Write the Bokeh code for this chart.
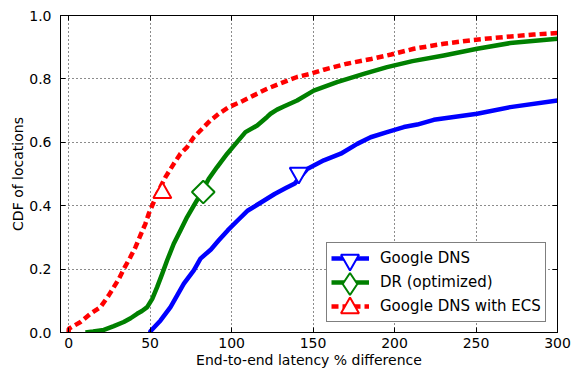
import numpy as np
from bokeh.plotting import figure
from bokeh.models import (ColumnDataSource, Legend, LegendItem, LinearAxis,
                          FixedTicker, Range1d)
from bokeh.embed import file_html
from bokeh.resources import INLINE

# ---- data ----
google_x = [50, 50.2, 56.4, 62.5, 66.6, 70.7, 76.8, 80.9, 87.3, 92, 97.6, 104, 110, 118,
            126.4, 133, 138.8, 142, 146.4, 156.6, 167, 177.1, 185.3, 195.4, 205.7, 213.9,
            224.1, 250.7, 271, 300]
google_y = [0.0, 0.004, 0.038, 0.08, 0.117, 0.154, 0.196, 0.233, 0.262, 0.29, 0.322, 0.355,
            0.385, 0.41, 0.437, 0.455, 0.47, 0.49, 0.516, 0.543, 0.564, 0.595, 0.616, 0.632,
            0.648, 0.656, 0.671, 0.69, 0.711, 0.732]

dr_x = [10.3, 15, 21.6, 27.7, 33.8, 38, 42, 45, 48.2, 51.3, 54.3, 57.4, 60.4, 64.5, 68.6,
        72.7, 76.8, 79.9, 86, 91.1, 97.3, 102.4, 108.5, 115.7, 121.8, 123.9, 127.9, 132,
        140.2, 150.4, 164.7, 181.1, 195.4, 211, 230.2, 250.7, 271, 291.5, 300]
dr_y = [0.0, 0.003, 0.008, 0.02, 0.033, 0.045, 0.059, 0.068, 0.08, 0.106, 0.143, 0.185,
        0.227, 0.28, 0.322, 0.364, 0.40, 0.427, 0.485, 0.522, 0.564, 0.595, 0.632, 0.653,
        0.68, 0.69, 0.703, 0.713, 0.732, 0.763, 0.79, 0.816, 0.837, 0.856, 0.874, 0.895,
        0.913, 0.923, 0.927]

ecs_x = [0, 0.1, 7.3, 13.4, 19.5, 24.6, 27.7, 30.8, 33.8, 37.9, 41, 44, 47.1, 49.1, 52.2,
         55.5, 59.4, 64.5, 68.6, 72.7, 76.8, 82, 87, 92.1, 98.3, 105.4, 113.6, 121.8, 132,
         140.2, 148.4, 156.6, 170.9, 185.6, 197.9, 211.8, 230.2, 248.6, 267, 285.4, 300]
ecs_y = [0.0, 0.012, 0.033, 0.059, 0.080, 0.117, 0.143, 0.169, 0.200, 0.238, 0.269, 0.306,
         0.343, 0.374, 0.411, 0.45, 0.49, 0.532, 0.564, 0.585, 0.616, 0.643, 0.669, 0.69,
         0.711, 0.727, 0.748, 0.769, 0.79, 0.806, 0.816, 0.829, 0.848, 0.863, 0.877, 0.895,
         0.911, 0.923, 0.932, 0.94, 0.945]

# single marker per series
google_mark = (141.2, 0.503)
dr_mark = (82.6, 0.443)
ecs_mark = (57.5, 0.441)

labels = ["Google DNS", "DR (optimized)", "Google DNS with ECS"]
x_ticks = [0, 50, 100, 150, 200, 250, 300]
y_ticks = [0.0, 0.2, 0.4, 0.6, 0.8, 1.0]

FONT = "DejaVu Sans"

p = figure(width=575, height=371, output_backend="svg", toolbar_location=None,
           x_range=Range1d(-5, 300), y_range=Range1d(0, 1.0),
           min_border_left=60, min_border_right=18, min_border_top=15,
           min_border_bottom=39)
p.background_fill_color = "white"
p.border_fill_color = "white"
p.outline_line_color = "black"
p.outline_line_width = 1

# grids
for g in (p.xgrid, p.ygrid):
    g.grid_line_color = "black"
    g.grid_line_dash = "1 3"
    g.grid_line_width = 1
    g.grid_line_alpha = 0.9
p.xgrid.ticker = FixedTicker(ticks=x_ticks)
p.ygrid.ticker = FixedTicker(ticks=y_ticks)

# axes
p.xaxis.ticker = FixedTicker(ticks=x_ticks)
p.yaxis.ticker = FixedTicker(ticks=y_ticks)
p.xaxis.major_label_overrides = {t: str(t) for t in x_ticks}
p.yaxis.major_label_overrides = {t: f"{t:.1f}" for t in y_ticks}
p.xaxis.axis_label = "End-to-end latency % difference"
p.yaxis.axis_label = "CDF of locations"
for ax in (p.xaxis[0], p.yaxis[0]):
    ax.axis_line_color = "black"
    ax.major_tick_line_color = "black"
    ax.major_tick_in = 5
    ax.major_tick_out = 0
    ax.minor_tick_line_color = None
    ax.major_label_text_font = FONT
    ax.major_label_text_font_size = "14px"
    ax.major_label_text_color = "black"
    ax.axis_label_text_font = FONT
    ax.axis_label_text_font_size = "14px"
    ax.axis_label_text_font_style = "normal"
    ax.axis_label_text_color = "black"
p.xaxis.major_label_standoff = 5
p.xaxis.axis_label_standoff = 1
p.yaxis.major_label_standoff = 9
p.yaxis.axis_label_standoff = 0

# ticks on top and right, no labels
top = LinearAxis(ticker=FixedTicker(ticks=x_ticks), major_label_text_font_size="1px",
                 major_label_text_color=None,
                 major_tick_in=5, major_tick_out=0, minor_tick_line_color=None,
                 major_label_standoff=0, axis_line_color="black")
right = LinearAxis(ticker=FixedTicker(ticks=y_ticks), major_label_text_font_size="1px",
                   major_label_text_color=None,
                   major_tick_in=5, major_tick_out=0, minor_tick_line_color=None,
                   major_label_standoff=0, axis_line_color="black")
p.add_layout(top, "above")
p.add_layout(right, "right")

BLUE, GREEN, RED = "#0000ff", "#008000", "#ff0000"

src_g = ColumnDataSource(dict(x=google_x, y=google_y))
src_d = ColumnDataSource(dict(x=dr_x, y=dr_y))
src_e = ColumnDataSource(dict(x=ecs_x, y=ecs_y))

lg = p.line("x", "y", source=src_g, line_color=BLUE, line_width=4.5, line_join="round")
ld = p.line("x", "y", source=src_d, line_color=GREEN, line_width=4.5, line_join="round")
le = p.line("x", "y", source=src_e, line_color=RED, line_width=4.5, line_dash="7 4")

mg = p.scatter([google_mark[0]], [google_mark[1]], marker="inverted_triangle", size=18,
               line_color=BLUE, line_width=2, fill_color="white")
md = p.scatter([dr_mark[0]], [dr_mark[1]], marker="square", angle=np.pi / 4, size=16,
               line_color=GREEN, line_width=2, fill_color="white")
me = p.scatter([ecs_mark[0]], [ecs_mark[1]], marker="triangle", size=18,
               line_color=RED, line_width=2, fill_color="white")
# legend-only diamond (not drawn in the plot area: NaN position)
md_leg = p.scatter([np.nan], [np.nan], marker="diamond", size=22,
                   line_color=GREEN, line_width=2, fill_color="white")

# main legend: lines + labels
legend = Legend(items=[
    LegendItem(label=labels[0], renderers=[lg]),
    LegendItem(label=labels[1], renderers=[ld]),
    LegendItem(label=labels[2], renderers=[le]),
], location=(266, 10))
legend.padding = 4
legend.spacing = 2
legend.glyph_width = 38
legend.glyph_height = 22
legend.label_height = 22
legend.label_standoff = 11
legend.label_text_font = FONT
legend.label_text_font_size = "15px"
legend.label_text_color = "black"
legend.border_line_color = "black"
legend.border_line_width = 1
legend.background_fill_color = "white"
legend.background_fill_alpha = 1.0
p.add_layout(legend, "center")

# marker overlays for the legend rows (large markers, as in the reference)
def marker_legend(renderer, box, loc):
    lgd = Legend(items=[LegendItem(label=" ", renderers=[renderer])], location=loc)
    lgd.padding = 0
    lgd.spacing = 0
    lgd.margin = 0
    lgd.glyph_width = box
    lgd.glyph_height = box
    lgd.label_height = 10
    lgd.label_standoff = 0
    lgd.label_text_font_size = "1px"
    lgd.label_text_color = None
    lgd.border_line_color = None
    lgd.background_fill_alpha = 0
    lgd.inactive_fill_alpha = 0
    p.add_layout(lgd, "center")

marker_legend(mg, 45, (266.5, 50.5))
marker_legend(md_leg, 55, (261.5, 21.5))
marker_legend(me, 45, (266.5, 2.5))

open("out.html", "w").write(file_html(p, INLINE))
